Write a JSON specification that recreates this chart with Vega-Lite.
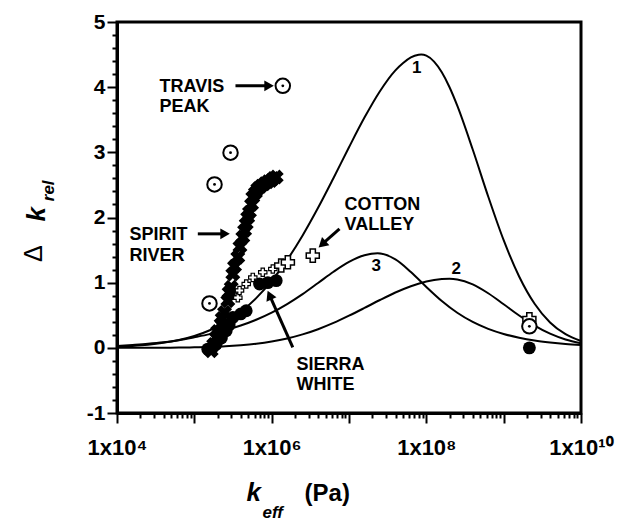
{
  "$schema": "https://vega.github.io/schema/vega-lite/v6.json",
  "width": 464,
  "height": 391,
  "autosize": {"type": "none"},
  "padding": {"left": 117, "top": 22, "right": 44, "bottom": 113},
  "background": "white",
  "config": {"view": {"stroke": "black", "strokeWidth": 3}, "font": "Liberation Sans"},
  "datasets": {
    "curves": [
      {"curve": "1", "k": 10000, "dk": 0.018}, {"curve": "1", "k": 15849, "dk": 0.03}, {"curve": "1", "k": 25119, "dk": 0.048},
      {"curve": "1", "k": 39811, "dk": 0.077}, {"curve": "1", "k": 63096, "dk": 0.119}, {"curve": "1", "k": 100000, "dk": 0.181},
      {"curve": "1", "k": 158489, "dk": 0.27}, {"curve": "1", "k": 251189, "dk": 0.391}, {"curve": "1", "k": 398107, "dk": 0.553},
      {"curve": "1", "k": 630957, "dk": 0.763}, {"curve": "1", "k": 1000000, "dk": 1.027}, {"curve": "1", "k": 1584893, "dk": 1.349},
      {"curve": "1", "k": 2511886, "dk": 1.725}, {"curve": "1", "k": 3981072, "dk": 2.149}, {"curve": "1", "k": 6309573, "dk": 2.607},
      {"curve": "1", "k": 10000000, "dk": 3.078}, {"curve": "1", "k": 15848932, "dk": 3.533}, {"curve": "1", "k": 25118864, "dk": 3.938},
      {"curve": "1", "k": 39810717, "dk": 4.258}, {"curve": "1", "k": 50118723, "dk": 4.37}, {"curve": "1", "k": 63095734, "dk": 4.456},
      {"curve": "1", "k": 79432823, "dk": 4.496}, {"curve": "1", "k": 85901352, "dk": 4.5}, {"curve": "1", "k": 100000000, "dk": 4.483},
      {"curve": "1", "k": 125892541, "dk": 4.392}, {"curve": "1", "k": 158489319, "dk": 4.228}, {"curve": "1", "k": 199526231, "dk": 3.999},
      {"curve": "1", "k": 251188643, "dk": 3.716}, {"curve": "1", "k": 398107171, "dk": 3.043}, {"curve": "1", "k": 630957344, "dk": 2.323},
      {"curve": "1", "k": 1000000000, "dk": 1.652}, {"curve": "1", "k": 1584893192, "dk": 1.095}, {"curve": "1", "k": 2511886432, "dk": 0.676},
      {"curve": "1", "k": 3981071706, "dk": 0.389}, {"curve": "1", "k": 6309573445, "dk": 0.209}, {"curve": "1", "k": 10000000000, "dk": 0.104},

      {"curve": "2", "k": 10000, "dk": 0.0}, {"curve": "2", "k": 15849, "dk": 0.001}, {"curve": "2", "k": 25119, "dk": 0.001},
      {"curve": "2", "k": 39811, "dk": 0.002}, {"curve": "2", "k": 63096, "dk": 0.004}, {"curve": "2", "k": 100000, "dk": 0.008},
      {"curve": "2", "k": 158489, "dk": 0.014}, {"curve": "2", "k": 251189, "dk": 0.023}, {"curve": "2", "k": 398107, "dk": 0.039},
      {"curve": "2", "k": 630957, "dk": 0.062}, {"curve": "2", "k": 1000000, "dk": 0.096}, {"curve": "2", "k": 1584893, "dk": 0.143},
      {"curve": "2", "k": 2511886, "dk": 0.206}, {"curve": "2", "k": 3981072, "dk": 0.286}, {"curve": "2", "k": 6309573, "dk": 0.382},
      {"curve": "2", "k": 10000000, "dk": 0.493}, {"curve": "2", "k": 15848932, "dk": 0.612}, {"curve": "2", "k": 25118864, "dk": 0.734},
      {"curve": "2", "k": 39810717, "dk": 0.849}, {"curve": "2", "k": 63095734, "dk": 0.946}, {"curve": "2", "k": 100000000, "dk": 1.018},
      {"curve": "2", "k": 158489319, "dk": 1.055}, {"curve": "2", "k": 199526231, "dk": 1.06}, {"curve": "2", "k": 251188643, "dk": 1.05},
      {"curve": "2", "k": 398107171, "dk": 0.974}, {"curve": "2", "k": 630957344, "dk": 0.838}, {"curve": "2", "k": 1000000000, "dk": 0.669},
      {"curve": "2", "k": 1584893192, "dk": 0.496}, {"curve": "2", "k": 2511886432, "dk": 0.341}, {"curve": "2", "k": 3981071706, "dk": 0.217},
      {"curve": "2", "k": 6309573445, "dk": 0.128}, {"curve": "2", "k": 10000000000, "dk": 0.07},

      {"curve": "3", "k": 10000, "dk": 0.03}, {"curve": "3", "k": 15849, "dk": 0.045}, {"curve": "3", "k": 25119, "dk": 0.062},
      {"curve": "3", "k": 39811, "dk": 0.085}, {"curve": "3", "k": 63096, "dk": 0.118}, {"curve": "3", "k": 100000, "dk": 0.162},
      {"curve": "3", "k": 158489, "dk": 0.21}, {"curve": "3", "k": 251189, "dk": 0.27}, {"curve": "3", "k": 398107, "dk": 0.342},
      {"curve": "3", "k": 630957, "dk": 0.431}, {"curve": "3", "k": 1000000, "dk": 0.54}, {"curve": "3", "k": 1584893, "dk": 0.672},
      {"curve": "3", "k": 2511886, "dk": 0.825}, {"curve": "3", "k": 3981072, "dk": 0.995}, {"curve": "3", "k": 6309573, "dk": 1.167},
      {"curve": "3", "k": 10000000, "dk": 1.318}, {"curve": "3", "k": 15848932, "dk": 1.42}, {"curve": "3", "k": 23442288, "dk": 1.45},
      {"curve": "3", "k": 39810717, "dk": 1.357}, {"curve": "3", "k": 63095734, "dk": 1.164}, {"curve": "3", "k": 100000000, "dk": 0.934},
      {"curve": "3", "k": 158489319, "dk": 0.718}, {"curve": "3", "k": 251188643, "dk": 0.538}, {"curve": "3", "k": 398107171, "dk": 0.397},
      {"curve": "3", "k": 630957344, "dk": 0.291}, {"curve": "3", "k": 1000000000, "dk": 0.213}, {"curve": "3", "k": 1584893192, "dk": 0.155},
      {"curve": "3", "k": 2511886432, "dk": 0.112}, {"curve": "3", "k": 3981071706, "dk": 0.082}, {"curve": "3", "k": 6309573445, "dk": 0.059},
      {"curve": "3", "k": 10000000000, "dk": 0.043}
    ],
    "sierra": [
      {"k": 149300, "dk": -0.02}, {"k": 170000, "dk": 0.0}, {"k": 191700, "dk": 0.057}, {"k": 223900, "dk": 0.15},
      {"k": 258200, "dk": 0.262}, {"k": 281800, "dk": 0.35}, {"k": 314400, "dk": 0.466}, {"k": 398100, "dk": 0.52},
      {"k": 468800, "dk": 0.569}, {"k": 696600, "dk": 0.98}, {"k": 891300, "dk": 1.0}, {"k": 1145000, "dk": 1.031},
      {"k": 2150000000, "dk": 0.0}
    ],
    "spirit": [
      {"k": 165000, "dk": -0.046}, {"k": 177800, "dk": 0.05}, {"k": 191700, "dk": 0.158}, {"k": 199500, "dk": 0.25},
      {"k": 222500, "dk": 0.365}, {"k": 229100, "dk": 0.45}, {"k": 245600, "dk": 0.543}, {"k": 271200, "dk": 0.723},
      {"k": 281800, "dk": 0.85}, {"k": 299900, "dk": 0.928}, {"k": 314400, "dk": 1.134}, {"k": 331100, "dk": 1.25},
      {"k": 364800, "dk": 1.389}, {"k": 389000, "dk": 1.55}, {"k": 423600, "dk": 1.697}, {"k": 446700, "dk": 1.8},
      {"k": 468800, "dk": 1.902}, {"k": 489800, "dk": 2.0}, {"k": 516700, "dk": 2.082}, {"k": 549500, "dk": 2.2},
      {"k": 570200, "dk": 2.312}, {"k": 616600, "dk": 2.38}, {"k": 662000, "dk": 2.442}, {"k": 724400, "dk": 2.48},
      {"k": 807800, "dk": 2.518}, {"k": 891300, "dk": 2.55}, {"k": 985000, "dk": 2.569}, {"k": 1047000, "dk": 2.6},
      {"k": 1145000, "dk": 2.62}
    ],
    "cottonBig": [
      {"k": 1330000, "dk": 1.262}, {"k": 1620000, "dk": 1.312}, {"k": 3400000, "dk": 1.415}, {"k": 2150000000, "dk": 0.44}
    ],
    "cottonSmall": [
      {"k": 365000, "dk": 0.77}, {"k": 384000, "dk": 0.88}, {"k": 469000, "dk": 0.98}, {"k": 570000, "dk": 1.08},
      {"k": 767000, "dk": 1.16}, {"k": 1035000, "dk": 1.21}
    ],
    "travis": [
      {"k": 157000, "dk": 0.682}, {"k": 182400, "dk": 2.508}, {"k": 293800, "dk": 2.995}, {"k": 1393000, "dk": 4.02},
      {"k": 2150000000, "dk": 0.33}
    ],
    "shafts": [
      {"k": 340400, "dk": 4.02, "k2": 883100, "dk2": 4.02},
      {"k": 110900, "dk": 1.749, "k2": 238300, "dk2": 1.749},
      {"k": 7534000, "dk": 1.826, "k2": 4656000, "dk2": 1.605},
      {"k": 1875000, "dk": 0.008, "k2": 957200, "dk2": 0.786}
    ],
    "headsRight": [{"k": 883100, "dk": 4.02}, {"k": 238300, "dk": 1.749}],
    "headCotton": [{"k": 4656000, "dk": 1.605}],
    "headSierra": [{"k": 957200, "dk": 0.786}],
    "labels": [
      {"k": 35440, "dk": 3.93, "text": "TRAVIS"}, {"k": 35440, "dk": 3.62, "text": "PEAK"},
      {"k": 14510, "dk": 1.65, "text": "SPIRIT"}, {"k": 14510, "dk": 1.34, "text": "RIVER"},
      {"k": 8750000, "dk": 2.12, "text": "COTTON"}, {"k": 8750000, "dk": 1.81, "text": "VALLEY"},
      {"k": 2095000, "dk": -0.34, "text": "SIERRA"}, {"k": 2095000, "dk": -0.65, "text": "WHITE"}
    ],
    "curveLabels": [
      {"k": 75340000, "dk": 4.29, "text": "1"}, {"k": 22490000, "dk": 1.26, "text": "3"}, {"k": 243200000, "dk": 1.21, "text": "2"}
    ]
  },
  "encoding": {
    "x": {
      "field": "k", "type": "quantitative",
      "scale": {"type": "log", "domain": [10000, 10000000000], "nice": false},
      "axis": {
        "title": null, "grid": false,
        "values": [10000, 20000, 30000, 40000, 50000, 60000, 70000, 80000, 90000,
          100000, 200000, 300000, 400000, 500000, 600000, 700000, 800000, 900000,
          1000000, 2000000, 3000000, 4000000, 5000000, 6000000, 7000000, 8000000, 9000000,
          10000000, 20000000, 30000000, 40000000, 50000000, 60000000, 70000000, 80000000, 90000000,
          100000000, 200000000, 300000000, 400000000, 500000000, 600000000, 700000000, 800000000, 900000000,
          1000000000, 2000000000, 3000000000, 4000000000, 5000000000, 6000000000, 7000000000, 8000000000, 9000000000,
          10000000000],
        "labelExpr": "datum.value == 10000 ? '1x10⁴' : datum.value == 1000000 ? '1x10⁶' : datum.value == 100000000 ? '1x10⁸' : datum.value == 10000000000 ? '1x10¹⁰' : ''",
        "tickSize": {"condition": {"test": "abs(log(datum.value)/LN10 - round(log(datum.value)/LN10)) < 0.000001", "value": 10}, "value": 5},
        "tickWidth": 2, "tickColor": "black", "domainColor": "black", "domainWidth": 3,
        "labelFont": "Liberation Sans", "labelFontSize": 22, "labelFontWeight": "bold", "labelColor": "black",
        "labelPadding": 14, "labelOverlap": false, "labelFlush": false, "labelBound": false
      }
    },
    "y": {
      "field": "dk", "type": "quantitative",
      "scale": {"domain": [-1, 5], "nice": false, "zero": false},
      "axis": {
        "title": null, "grid": false,
        "values": [-1, -0.8, -0.6, -0.4, -0.2, 0, 0.2, 0.4, 0.6, 0.8, 1, 1.2, 1.4, 1.6, 1.8, 2, 2.2, 2.4, 2.6, 2.8, 3, 3.2, 3.4, 3.6, 3.8, 4, 4.2, 4.4, 4.6, 4.8, 5],
        "labelExpr": "abs(datum.value - round(datum.value)) < 0.001 ? '' + round(datum.value) : ''",
        "tickSize": {"condition": {"test": "abs(datum.value - round(datum.value)) < 0.001", "value": 10}, "value": 5},
        "tickWidth": 2, "tickColor": "black", "domainColor": "black", "domainWidth": 3,
        "labelFont": "Liberation Sans", "labelFontSize": 21, "labelFontWeight": "bold", "labelColor": "black",
        "labelPadding": 2, "labelOverlap": false, "labelBound": false
      }
    }
  },
  "layer": [
    {"data": {"name": "curves"}, "mark": {"type": "line", "color": "black", "strokeWidth": 2, "interpolate": "monotone"}, "encoding": {"detail": {"field": "curve"}}},
    {"data": {"name": "sierra"}, "mark": {"type": "point", "shape": "circle", "filled": true, "color": "black", "opacity": 1, "size": 165}},
    {"data": {"name": "spirit"}, "mark": {"type": "point", "shape": "cross", "angle": 45, "filled": true, "color": "black", "opacity": 1, "size": 230}},
    {"data": {"name": "cottonSmall"}, "mark": {"type": "point", "shape": "cross", "filled": true, "fill": "white", "stroke": "black", "strokeWidth": 1.2, "opacity": 1, "size": 70}},
    {"data": {"name": "cottonBig"}, "mark": {"type": "point", "shape": "cross", "filled": true, "fill": "white", "stroke": "black", "strokeWidth": 1.5, "opacity": 1, "size": 170}},
    {"data": {"name": "travis"}, "mark": {"type": "point", "shape": "circle", "filled": true, "fill": "white", "stroke": "black", "strokeWidth": 2, "opacity": 1, "size": 210}},
    {"data": {"name": "travis"}, "mark": {"type": "point", "shape": "circle", "filled": true, "color": "black", "opacity": 1, "size": 8}},
    {"data": {"name": "shafts"}, "mark": {"type": "rule", "color": "black", "strokeWidth": 3}, "encoding": {"x2": {"field": "k2"}, "y2": {"field": "dk2"}}},
    {"data": {"name": "headsRight"}, "mark": {"type": "point", "shape": "triangle", "angle": 90, "filled": true, "color": "black", "opacity": 1, "size": 120}},
    {"data": {"name": "headCotton"}, "mark": {"type": "point", "shape": "triangle", "angle": 228, "filled": true, "color": "black", "opacity": 1, "size": 120}},
    {"data": {"name": "headSierra"}, "mark": {"type": "point", "shape": "triangle", "angle": 336, "filled": true, "color": "black", "opacity": 1, "size": 120}},
    {"data": {"name": "labels"}, "mark": {"type": "text", "align": "left", "baseline": "alphabetic", "font": "Liberation Sans", "fontWeight": "bold", "fontSize": 18, "color": "black"}, "encoding": {"text": {"field": "text"}}},
    {"data": {"name": "curveLabels"}, "mark": {"type": "text", "align": "center", "baseline": "middle", "font": "Liberation Sans", "fontWeight": "bold", "fontSize": 17, "color": "black"}, "encoding": {"text": {"field": "text"}}},
    {"data": {"values": [{"k": 473000, "dk": -2.354, "text": "k"}]}, "mark": {"type": "text", "align": "left", "baseline": "alphabetic", "font": "Liberation Sans", "fontWeight": "bold", "fontStyle": "italic", "fontSize": 26, "color": "black"}, "encoding": {"text": {"field": "text"}}},
    {"data": {"values": [{"k": 762000, "dk": -2.615, "text": "eff"}]}, "mark": {"type": "text", "align": "left", "baseline": "alphabetic", "font": "Liberation Sans", "fontWeight": "bold", "fontStyle": "italic", "fontSize": 17, "color": "black"}, "encoding": {"text": {"field": "text"}}},
    {"data": {"values": [{"k": 2661000, "dk": -2.354, "text": "(Pa)"}]}, "mark": {"type": "text", "align": "left", "baseline": "alphabetic", "font": "Liberation Sans", "fontWeight": "bold", "fontSize": 24, "color": "black"}, "encoding": {"text": {"field": "text"}}},
    {"data": {"values": [{"k": 1080, "dk": 1.446, "text": "Δ"}]}, "mark": {"type": "text", "align": "center", "baseline": "alphabetic", "angle": 270, "font": "Liberation Sans", "fontSize": 25, "color": "black"}, "encoding": {"text": {"field": "text"}}},
    {"data": {"values": [{"k": 1155, "dk": 2.05, "text": "k"}]}, "mark": {"type": "text", "align": "center", "baseline": "alphabetic", "angle": 270, "font": "Liberation Sans", "fontWeight": "bold", "fontStyle": "italic", "fontSize": 26, "color": "black"}, "encoding": {"text": {"field": "text"}}},
    {"data": {"values": [{"k": 1510, "dk": 2.25, "text": "rel"}]}, "mark": {"type": "text", "align": "left", "baseline": "alphabetic", "angle": 270, "font": "Liberation Sans", "fontWeight": "bold", "fontStyle": "italic", "fontSize": 17, "color": "black"}, "encoding": {"text": {"field": "text"}}}
  ]
}
